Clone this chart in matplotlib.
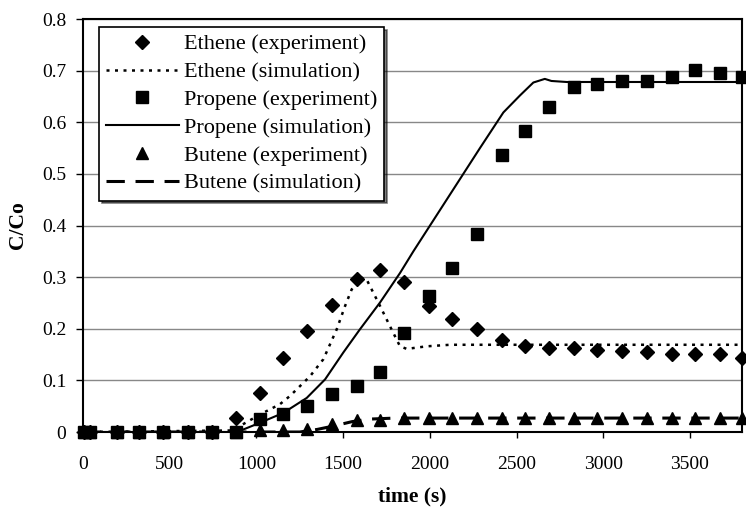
import matplotlib
matplotlib.use("Agg")
import matplotlib.pyplot as plt

# experiment sampling times (s)
expTime = [5, 40, 195, 320, 460, 605, 745, 885, 1021, 1155, 1294, 1436, 1578, 1712, 1852,
           1994, 2130, 2272, 2414, 2550, 2690, 2833, 2966, 3110, 3252, 3395, 3531, 3671, 3800]

ethExp = [0, 0, 0, 0, 0, 0, 0, 0.028, 0.076, 0.144, 0.195, 0.246, 0.297, 0.314, 0.290,
          0.244, 0.219, 0.199, 0.179, 0.166, 0.162, 0.163, 0.159, 0.156, 0.155, 0.152, 0.152, 0.152, 0.143]

propExp = [0, 0, 0, 0, 0, 0, 0, 0, 0.026, 0.034, 0.050, 0.074, 0.089, 0.116, 0.191,
           0.263, 0.317, 0.384, 0.536, 0.584, 0.630, 0.668, 0.675, 0.679, 0.679, 0.688, 0.702, 0.695, 0.688]

butExp = [0, 0, 0, 0, 0, 0, 0, 0, 0.004, 0.004, 0.005, 0.015, 0.024, 0.024, 0.027,
          0.028, 0.027, 0.027, 0.027, 0.027, 0.027, 0.027, 0.027, 0.027, 0.027, 0.027, 0.027, 0.027, 0.027]

# simulation curves
ethSimTime = [0, 860, 1021, 1136, 1194, 1309, 1386, 1463, 1511, 1549, 1597, 1636, 1713, 1770, 1828, 1867, 1982, 2117, 3800]
ethSim = [0, 0.003, 0.034, 0.054, 0.070, 0.108, 0.141, 0.199, 0.244, 0.276, 0.300, 0.295, 0.244, 0.205, 0.166, 0.161, 0.166, 0.169, 0.169]

propSimTime = [0, 850, 925, 1021, 1155, 1290, 1396, 1501, 1597, 1713, 1828, 1905, 2001, 2097, 2289, 2424, 2520, 2597, 2663, 2701, 2789, 3800]
propSim = [0, 0, 0.005, 0.018, 0.037, 0.066, 0.102, 0.154, 0.199, 0.251, 0.308, 0.350, 0.400, 0.450, 0.550, 0.619, 0.652, 0.677, 0.684, 0.680, 0.678, 0.678]

butSimTime = [0, 1250, 1350, 1450, 1550, 1650, 1800, 2000, 3800]
butSim = [0, 0, 0.005, 0.012, 0.020, 0.025, 0.027, 0.027, 0.027]

xTicks = [0, 500, 1000, 1500, 2000, 2500, 3000, 3500]
yTicks = [0, 0.1, 0.2, 0.3, 0.4, 0.5, 0.6, 0.7, 0.8]
yTickLabels = ["0", "0.1", "0.2", "0.3", "0.4", "0.5", "0.6", "0.7", "0.8"]

plt.rcParams['font.family'] = ['Liberation Serif', 'DejaVu Serif']

fig = plt.figure(figsize=(7.46, 5.07), dpi=100)
ax = fig.add_axes([0.1113, 0.1479, 0.8833, 0.8146])

ax.plot(expTime, ethExp, linestyle='none', marker='D', markersize=7, color='black',
        label='Ethene (experiment)', clip_on=False, zorder=4)
ax.plot(ethSimTime, ethSim, linestyle=(0, (1.2, 2.2)), linewidth=1.8, color='black',
        label='Ethene (simulation)', zorder=3)
ax.plot(expTime, propExp, linestyle='none', marker='s', markersize=8, color='black',
        label='Propene (experiment)', clip_on=False, zorder=4)
ax.plot(propSimTime, propSim, linestyle='-', linewidth=1.5, color='black',
        label='Propene (simulation)', zorder=3)
ax.plot(expTime, butExp, linestyle='none', marker='^', markersize=9, color='black',
        label='Butene (experiment)', clip_on=False, zorder=4)
ax.plot(butSimTime, butSim, linestyle=(0, (6, 3.5)), linewidth=2.2, color='black',
        label='Butene (simulation)', zorder=3)

ax.set_xlim(0, 3800)
ax.set_ylim(0, 0.8)
ax.set_xticks(xTicks)
ax.set_yticks(yTicks)
ax.set_yticklabels(yTickLabels)
ax.tick_params(axis='x', labelsize=14, direction='out', length=4, width=1, pad=13)
ax.tick_params(axis='y', labelsize=14, direction='out', length=5, width=1, pad=7)
ax.yaxis.grid(True, color='#888888', linewidth=1)
ax.set_axisbelow(True)
for s in ax.spines.values():
    s.set_linewidth(1.5)
    s.set_color('black')

ax.set_xlabel('time (s)', fontsize=15.5, fontweight='bold', labelpad=10)
ax.set_ylabel('C/Co', fontsize=15.5, fontweight='bold', labelpad=10)

leg = ax.legend(loc='upper left', bbox_to_anchor=(0.024, 0.98), borderaxespad=0,
                fontsize=16, frameon=True, fancybox=False, handlelength=3.3,
                labelspacing=0.33, handletextpad=0.25, borderpad=0.3,
                shadow={'color': 'black', 'ox': 2, 'oy': -2})
leg.get_frame().set_edgecolor('black')
leg.get_frame().set_linewidth(1.2)
leg.get_frame().set_alpha(1)

fig.savefig('out.png', dpi=100, facecolor='white')
